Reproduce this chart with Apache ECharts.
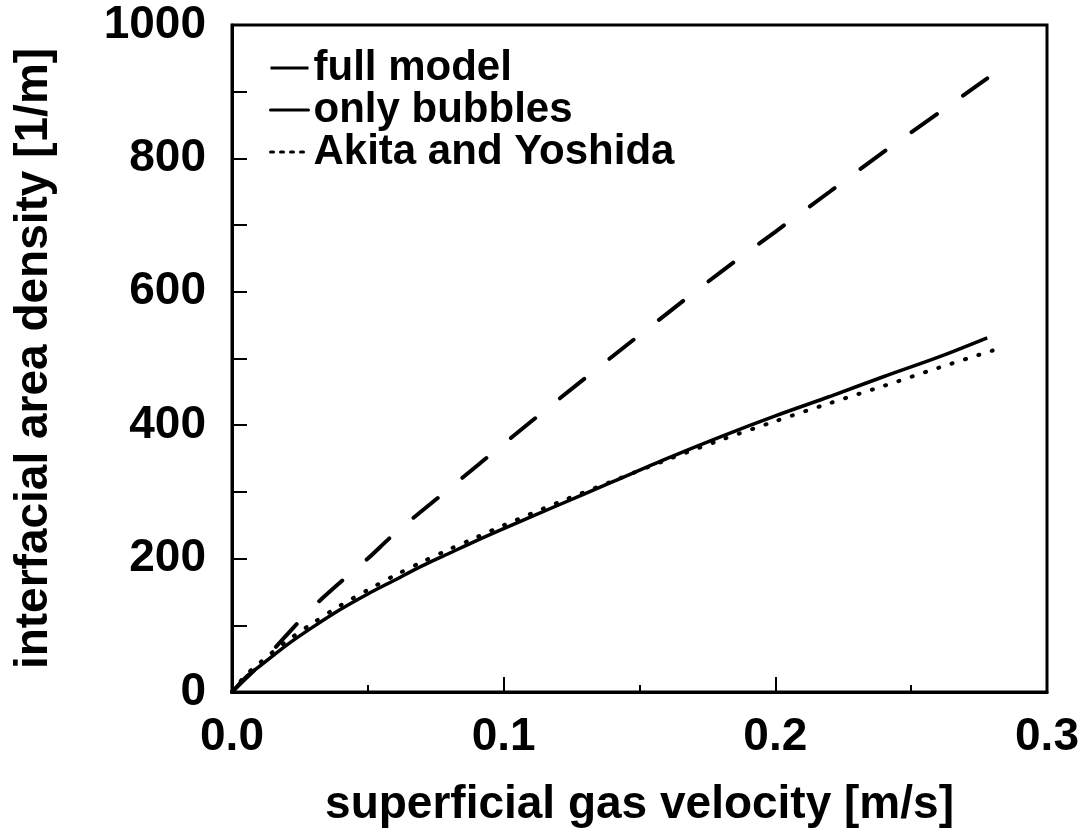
<!DOCTYPE html>
<html lang="en">
<head>
<meta charset="UTF-8">
<title>interfacial area density</title>
<style>
    *{
        margin: 0;
        padding: 0;
    }
    body{
        background-color: #fff;
    }
    .echarts{
        width: 1088px;
        height: 836px;
    }
</style>
</head>
<body>
<div class="echarts"></div>

<script src="https://cdn.jsdelivr.net/npm/echarts@6/dist/echarts.min.js"></script>
<script type="text/javascript">
    // 数据: superficial gas velocity [m/s] -> interfacial area density [1/m]
    var fullX = [0, 0.005, 0.01, 0.02, 0.03, 0.04, 0.05, 0.06, 0.07, 0.08, 0.09, 0.1, 0.12, 0.14, 0.16, 0.18, 0.2, 0.22, 0.24, 0.26, 0.278]
    var fullY = [0, 22, 38, 70, 98, 124, 147, 168, 189, 208, 227, 245, 280, 315, 350, 383, 414, 443, 473, 502, 531]

    var bubblesX = [0, 0.005, 0.01, 0.02, 0.03, 0.04, 0.05, 0.06, 0.08, 0.1, 0.12, 0.14, 0.16, 0.18, 0.2, 0.22, 0.24, 0.26, 0.278]
    var bubblesY = [0, 20, 40, 85, 128, 165, 200, 238, 305, 372, 438, 503, 567, 630, 690, 750, 810, 868, 920]

    var akitaX = [0, 0.005, 0.01, 0.02, 0.03, 0.04, 0.05, 0.06, 0.07, 0.08, 0.09, 0.1, 0.12, 0.14, 0.16, 0.18, 0.2, 0.22, 0.24, 0.26, 0.28]
    var akitaY = [0, 25, 43, 76, 104, 130, 153, 175, 195, 214, 232, 250, 284, 316, 348, 378, 406, 433, 459, 486, 512]

    var names = ['full model', 'only bubbles', 'Akita and Yoshida']

    function pairs(xs, ys) {
        return xs.map(function (x, i) {
            return [x, ys[i]]
        })
    }

    var font = 'Liberation Sans, Arial, sans-serif'
    var chart = echarts.init(document.querySelector('.echarts'))

    // 图例只要线段, 不要圆点
    var noDot = {color: 'transparent', borderWidth: 0, opacity: 0}

    var options = {
        animation: false,
        grid: {
            left: 232,
            right: 41,
            top: 25,
            bottom: 144,
            show: true,
            borderColor: '#000',
            borderWidth: 3,
            backgroundColor: 'transparent'
        },
        legend: {
            orient: 'vertical',
            left: 264,
            top: 42,
            itemWidth: 38,
            itemHeight: 14,
            itemGap: 0,
            itemTextGap: 4,
            textStyle: {
                fontFamily: font,
                fontWeight: 'bold',
                fontSize: 42,
                lineHeight: 41,
                color: '#000'
            },
            data: [
                {name: names[0], itemStyle: noDot, lineStyle: {type: 'solid', width: 3}},
                {name: names[1], itemStyle: noDot, lineStyle: {type: 'solid', width: 3}},
                {name: names[2], itemStyle: noDot, lineStyle: {type: [3, 7], width: 3}}
            ]
        },
        xAxis: {
            type: 'value',
            min: 0,
            max: 0.3,
            interval: 0.1,
            name: 'superficial gas velocity [m/s]',
            nameLocation: 'middle',
            nameGap: 90,
            nameTextStyle: {
                fontFamily: font,
                fontWeight: 'bold',
                fontSize: 46,
                color: '#000'
            },
            axisLine: {lineStyle: {color: '#000', width: 3}},
            axisTick: {inside: true, length: 15, lineStyle: {color: '#000', width: 2}},
            minorTick: {show: true, splitNumber: 2, length: 7, lineStyle: {color: '#000', width: 2}},
            splitLine: {show: false},
            axisLabel: {
                margin: 22,
                fontFamily: font,
                fontWeight: 'bold',
                fontSize: 46,
                color: '#000',
                formatter: function (v) {
                    return v.toFixed(1)
                }
            }
        },
        yAxis: {
            type: 'value',
            min: 0,
            max: 1000,
            interval: 200,
            name: 'interfacial area density [1/m]',
            nameLocation: 'middle',
            nameGap: 175,
            nameTextStyle: {
                fontFamily: font,
                fontWeight: 'bold',
                fontSize: 46,
                color: '#000'
            },
            axisLine: {show: true, lineStyle: {color: '#000', width: 3}},
            axisTick: {show: true, inside: true, length: 15, lineStyle: {color: '#000', width: 2}},
            minorTick: {show: true, splitNumber: 2, length: 15, lineStyle: {color: '#000', width: 2}},
            splitLine: {show: false},
            axisLabel: {
                margin: 26,
                fontFamily: font,
                fontWeight: 'bold',
                fontSize: 46,
                color: '#000',
                formatter: function (v) {
                    return String(v)
                }
            }
        },
        series: [
            {
                name: names[0],
                type: 'line',
                data: pairs(fullX, fullY),
                smooth: 0.3,
                symbol: 'none',
                lineStyle: {color: '#000', width: 3.5, type: 'solid'},
                itemStyle: {color: '#000'}
            },
            {
                name: names[1],
                type: 'line',
                data: pairs(bubblesX, bubblesY),
                smooth: 0.3,
                symbol: 'none',
                lineStyle: {color: '#000', width: 4, type: [31, 32], cap: 'round'},
                itemStyle: {color: '#000'}
            },
            {
                name: names[2],
                type: 'line',
                data: pairs(akitaX, akitaY),
                smooth: 0.3,
                symbol: 'none',
                lineStyle: {color: '#000', width: 4, type: [1, 13], cap: 'round'},
                itemStyle: {color: '#000'}
            }
        ]
    }

    chart.setOption(options)
</script>
</body>
</html>
